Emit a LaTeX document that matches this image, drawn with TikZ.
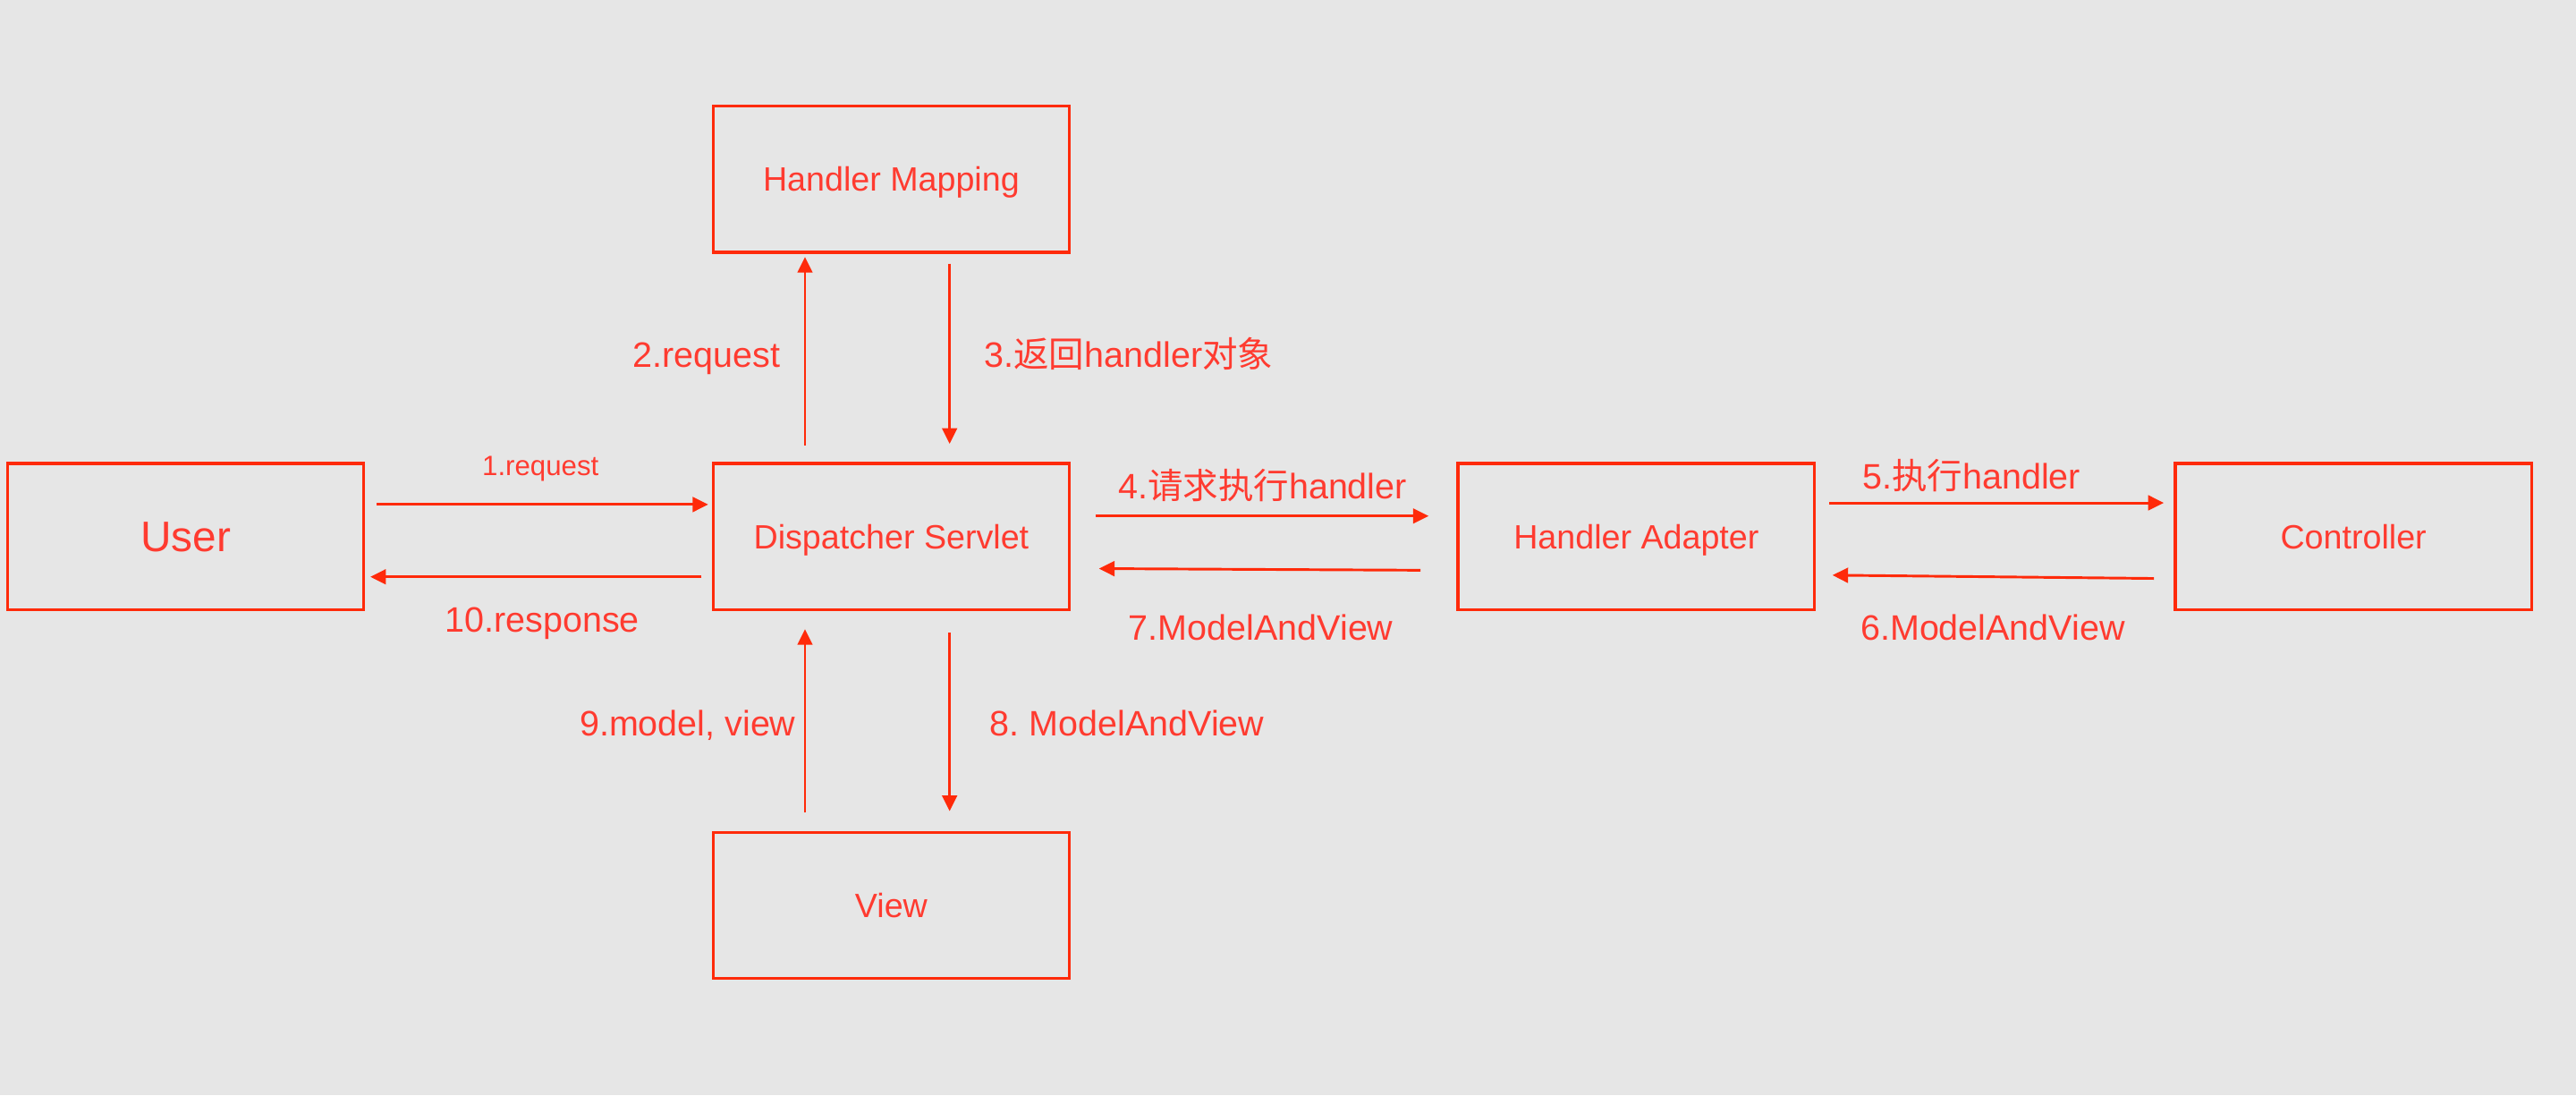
\documentclass[tikz,border=0pt]{standalone}
\usepackage{fontspec}
\setmainfont{Liberation Sans}
\newfontfamily\cjk{Noto Sans CJK SC}
\usetikzlibrary{arrows.meta}
\definecolor{bg}{HTML}{E6E6E6}
\definecolor{lred}{HTML}{FF2A0A}
\definecolor{tred}{HTML}{FF3B30}
\frenchspacing
\begin{document}
\begin{tikzpicture}[x=1pt,y=-1pt,
  box/.style={draw=lred,line width=1.8pt,minimum width=217pt,minimum height=89pt,inner sep=0pt,text=tred,font=\fontsize{20.5}{24}\selectfont,text height=14.7pt,text depth=0pt},
  arr/.style={draw=lred,line width=1.6pt,-{Triangle[length=9.5pt,width=9pt]}},
  lab/.style={text=tred,font=\fontsize{21.5}{25}\selectfont,inner sep=0pt,anchor=base}]
\fill[bg] (0,0) rectangle (1568,666.4);
\useasboundingbox (0,0) rectangle (1568,666.4);
\node[box] (hm) at (542.5,109) {Handler Mapping};
\node[box,font=\fontsize{26}{30}\selectfont,text height=18.6pt] (user) at (113,326.5) {User};
\node[box] (ds) at (542.5,326.5) {Dispatcher Servlet};
\node[box] (ha) at (996,326.5) {Handler Adapter};
\node[box] (ctl) at (1432.5,326.5) {Controller};
\node[box] (view) at (542.5,551) {View};
% arrows
\draw[arr] ([xshift=7pt,yshift=19.5pt]user.east) -- ([xshift=-2pt,yshift=19.5pt]ds.west);
\draw[arr] ([xshift=-6pt,yshift=-24.5pt]ds.west) -- ([xshift=3pt,yshift=-24.5pt]user.east);
\draw[arr] ([xshift=-52.5pt,yshift=10pt]ds.north) -- ([xshift=-52.5pt,yshift=-2pt]hm.south);
\draw[arr] ([xshift=35.5pt,yshift=-6pt]hm.south) -- ([xshift=35.5pt,yshift=11pt]ds.north);
\draw[arr] ([xshift=15pt,yshift=12.5pt]ds.east) -- ([xshift=-17pt,yshift=12.5pt]ha.west);
\draw[arr] ([xshift=-22pt,yshift=-20.5pt]ha.west) -- ([xshift=17pt,yshift=-19.5pt]ds.east);
\draw[arr] ([xshift=8pt,yshift=20.5pt]ha.east) -- ([xshift=-6pt,yshift=20.5pt]ctl.west);
\draw[arr] ([xshift=-12pt,yshift=-25.5pt]ctl.west) -- ([xshift=10pt,yshift=-23.5pt]ha.east);
\draw[arr] ([xshift=-52.5pt,yshift=11pt]view.north) -- ([xshift=-52.5pt,yshift=-11pt]ds.south);
\draw[arr] ([xshift=35.5pt,yshift=-13pt]ds.south) -- ([xshift=35.5pt,yshift=12pt]view.north);
% labels
\node[lab,font=\fontsize{17}{20}\selectfont] (l1) at (329,289.1) {1.request};
\node[lab] (l10) at (330,384.7) {10.response};
\node[lab,anchor=base east] (l2) at (475,223.7) {2.request};
\node[lab] (l3) at (687,223.7) {3.{\cjk 返回}handler{\cjk 对象}};
\node[lab] (l4) at (768.5,303.7) {4.{\cjk 请求执行}handler};
\node[lab] (l7) at (767.5,389.7) {7.ModelAndView};
\node[lab] (l5) at (1200,297.7) {5.{\cjk 执行}handler};
\node[lab] (l6) at (1213,389.7) {6.ModelAndView};
\node[lab,anchor=base east] (l9) at (484.5,447.7) {9.model, view};
\node[lab] (l8) at (686,447.7) {8. ModelAndView};
\end{tikzpicture}
\end{document}
